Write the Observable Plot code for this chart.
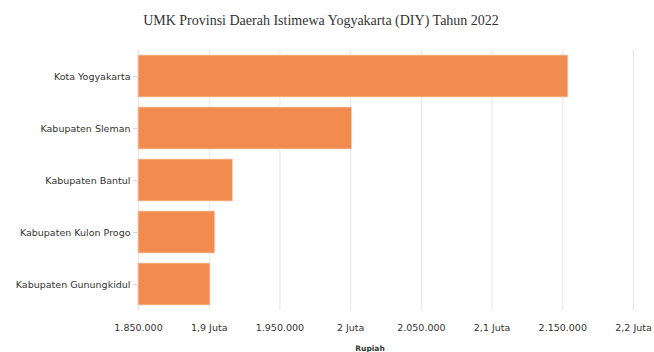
<!DOCTYPE html>
<html>
<head>
<meta charset="utf-8">
<script src="https://cdn.jsdelivr.net/npm/d3@7"></script>
<script src="https://cdn.jsdelivr.net/npm/@observablehq/plot@0.6"></script>
<style>
  html, body { margin: 0; padding: 0; background: #fff; }
  #title { height: 40px; box-sizing: border-box; padding-top: 13px; padding-right: 12px; text-align: center;
           font-family: "Liberation Serif", "DejaVu Serif", serif; font-size: 14px; color: #333; }
  #chart svg { display: block; }
</style>
</head>
<body>
<div id="title">UMK Provinsi Daerah Istimewa Yogyakarta (DIY) Tahun 2022</div>
<div id="chart"></div>
<script>
const regions = ["Kota Yogyakarta", "Kabupaten Sleman", "Kabupaten Bantul", "Kabupaten Kulon Progo", "Kabupaten Gunungkidul"];
const umk = [2153970, 2001000, 1916848, 1904275, 1900853];
const xTicks = [1850000, 1900000, 1950000, 2000000, 2050000, 2100000, 2150000, 2200000];
const xAxisLabel = "Rupiah";

const data = regions.map((r, i) => ({region: r, value: umk[i]}));

const fmt = v => {
  if (v % 100000 === 0) {
    return String(v / 1e6).replace(".", ",") + " Juta";
  }
  return d3.format(",")(v).replace(/,/g, ".");
};

const chart = Plot.plot({
  width: 654,
  height: 312,
  marginLeft: 138,
  marginRight: 21,
  marginTop: 10,
  marginBottom: 42,
  style: {fontFamily: "DejaVu Sans, Verdana, sans-serif", fontSize: "9.5px", color: "#333"},
  x: {domain: [1850000, 2200000], ticks: xTicks, tickFormat: fmt, label: null},
  y: {domain: regions, paddingInner: 0.2, paddingOuter: 0.06, label: null},
  marks: [
    Plot.gridX(xTicks, {stroke: "#e6e6e6", strokeOpacity: 1}),
    Plot.barX(data, {x1: 1850000, x2: "value", y: "region", fill: "#f28c4e", stroke: "#fbd3b8", strokeWidth: 0.8}),
    Plot.axisX({ticks: xTicks, tickFormat: fmt, tickSize: 0, tickPadding: 14, label: null, fill: "#333"}),
    Plot.axisY({tickSize: 5, tickPadding: 3, stroke: "#d8d8d8", label: null, fill: "#333"}),
    Plot.text([xAxisLabel], {frameAnchor: "bottom", dx: -16, dy: 40, fontWeight: "bold", fontSize: 7.5, fill: "#333"})
  ]
});
document.getElementById("chart").appendChild(chart);
</script>
</body>
</html>
